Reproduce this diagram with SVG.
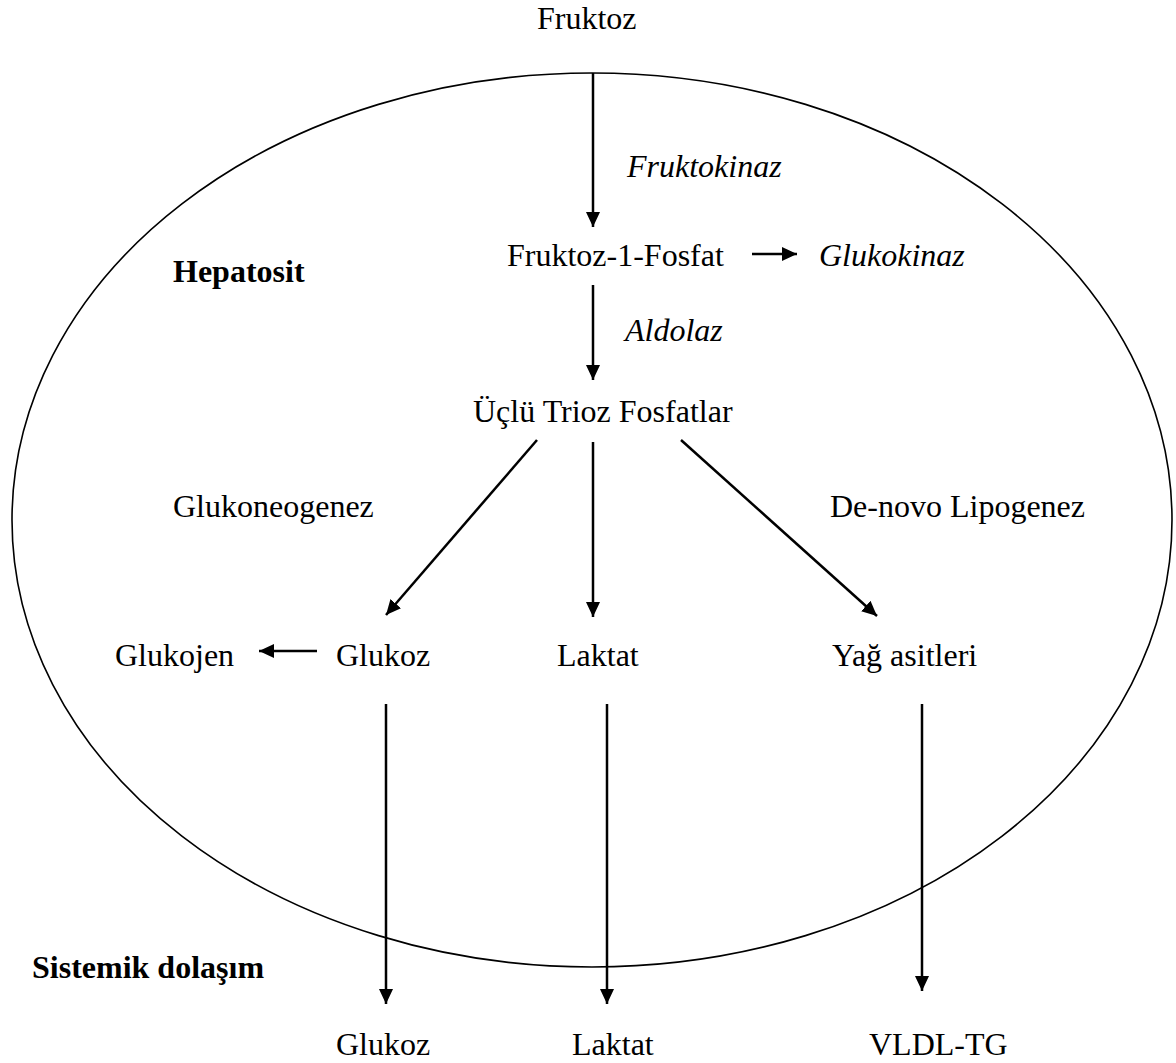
<svg xmlns="http://www.w3.org/2000/svg" width="1176" height="1063" viewBox="0 0 1176 1063">
<defs>
<marker id="ah" markerUnits="userSpaceOnUse" markerWidth="16" markerHeight="16" refX="15" refY="7" orient="auto">
<path d="M0,0 L15,7 L0,14 Z" fill="#000"/>
</marker>
<style>
text{font-family:"Liberation Serif","Times New Roman",serif;font-size:32px;fill:#000}
.i{font-style:italic}
.b{font-weight:bold}
.c{stroke:#000;stroke-width:2.5;fill:none;marker-end:url(#ah)}
</style>
</defs>
<rect width="1176" height="1063" fill="#fff"/>
<g id="cell">
<ellipse cx="592" cy="520" rx="580" ry="447" fill="none" stroke="#000" stroke-width="1.6"/>
</g>
<g id="connectors">
<line class="c" x1="593" y1="73" x2="593" y2="227"/>
<line class="c" x1="752" y1="254" x2="797" y2="254"/>
<line class="c" x1="593" y1="285" x2="593" y2="380"/>
<line class="c" x1="537" y1="440" x2="386" y2="615"/>
<line class="c" x1="593" y1="442" x2="593" y2="617"/>
<line class="c" x1="681" y1="440" x2="877" y2="616"/>
<line class="c" x1="317" y1="651" x2="259" y2="651"/>
<line class="c" x1="386" y1="704" x2="386" y2="1004"/>
<line class="c" x1="607" y1="704" x2="607" y2="1004"/>
<line class="c" x1="922" y1="704" x2="922" y2="991"/>
</g>
<g id="n-fruktoz"><text x="537" y="29">Fruktoz</text></g>
<g id="e-fruktokinaz"><text class="i" x="627" y="177">Fruktokinaz</text></g>
<g id="n-f1p"><text x="507" y="266">Fruktoz-1-Fosfat</text></g>
<g id="e-glukokinaz"><text class="i" x="819" y="266">Glukokinaz</text></g>
<g id="l-hepatosit"><text class="b" x="173" y="282">Hepatosit</text></g>
<g id="e-aldolaz"><text class="i" x="625" y="341">Aldolaz</text></g>
<g id="n-trioz"><text x="473" y="422">Üçlü Trioz Fosfatlar</text></g>
<g id="l-glukoneogenez"><text x="173" y="517">Glukoneogenez</text></g>
<g id="l-lipogenez"><text x="830" y="517">De-novo Lipogenez</text></g>
<g id="n-glukojen"><text x="115" y="666">Glukojen</text></g>
<g id="n-glukoz"><text x="336" y="666">Glukoz</text></g>
<g id="n-laktat"><text x="557" y="666">Laktat</text></g>
<g id="n-yag"><text x="832" y="666">Yağ asitleri</text></g>
<g id="l-sistemik"><text class="b" x="32" y="978">Sistemik dolaşım</text></g>
<g id="n-glukoz2"><text x="336" y="1055">Glukoz</text></g>
<g id="n-laktat2"><text x="572" y="1055">Laktat</text></g>
<g id="n-vldl"><text x="869" y="1055">VLDL-TG</text></g>
</svg>
